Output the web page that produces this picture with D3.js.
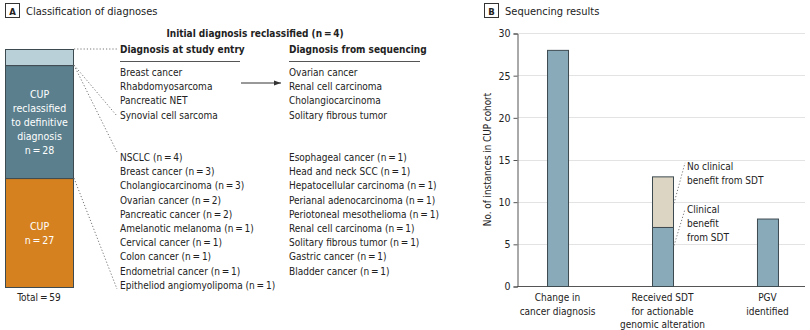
<!DOCTYPE html>
<html><head><meta charset="utf-8">
<script src="https://cdn.jsdelivr.net/npm/d3@7"></script>
<style>
body{margin:0;background:#fff;}
svg{font-family:"DejaVu Sans Condensed","Roboto",sans-serif;}
</style></head>
<body><svg id="c" width="810" height="330"></svg>
<script>
// ---- Panel A data ----
const stackCats = ["Initial diagnosis reclassified", "CUP reclassified to definitive diagnosis", "CUP"];
const stackVals = [4, 28, 27];
const stackLabels = [[], ["CUP", "reclassified", "to definitive", "diagnosis", "n\u2009=\u200928"], ["CUP", "n\u2009=\u200927"]];
const entryDiagnoses = ["Breast cancer", "Rhabdomyosarcoma", "Pancreatic NET", "Synovial cell sarcoma"];
const seqDiagnoses = ["Ovarian cancer", "Renal cell carcinoma", "Cholangiocarcinoma", "Solitary fibrous tumor"];
const definitiveLeft = ["NSCLC (n\u2009=\u20094)", "Breast cancer (n\u2009=\u20093)", "Cholangiocarcinoma (n\u2009=\u20093)", "Ovarian cancer (n\u2009=\u20092)",
  "Pancreatic cancer (n\u2009=\u20092)", "Amelanotic melanoma (n\u2009=\u20091)", "Cervical cancer (n\u2009=\u20091)", "Colon cancer (n\u2009=\u20091)",
  "Endometrial cancer (n\u2009=\u20091)", "Epitheliod angiomyolipoma (n\u2009=\u20091)"];
const definitiveRight = ["Esophageal cancer (n\u2009=\u20091)", "Head and neck SCC (n\u2009=\u20091)", "Hepatocellular carcinoma (n\u2009=\u20091)",
  "Perianal adenocarcinoma (n\u2009=\u20091)", "Periotoneal mesothelioma (n\u2009=\u20091)", "Renal cell carcinoma (n\u2009=\u20091)",
  "Solitary fibrous tumor (n\u2009=\u20091)", "Gastric cancer (n\u2009=\u20091)", "Bladder cancer (n\u2009=\u20091)"];
// ---- Panel B data ----
const bCategories = ["Change in cancer diagnosis", "Received SDT for actionable genomic alteration", "PGV identified"];
const bCatLines = [["Change in", "cancer diagnosis"], ["Received SDT", "for actionable", "genomic alteration"], ["PGV", "identified"]];
const benefitVals = [28, 7, 8];
const noBenefitVals = [0, 6, 0];
const yTicks = [0, 5, 10, 15, 20, 25, 30];

const svg = d3.select("#c");
const FS = 10;
const dark = "#222";

function panelTag(x, letter, title) {
  svg.append("rect").attr("x", x + 0.5).attr("y", 3.5).attr("width", 14).attr("height", 14)
    .attr("fill", "#fff").attr("stroke", "#333").attr("stroke-width", 1);
  svg.append("text").attr("x", x + 7.5).attr("y", 14.5).attr("text-anchor", "middle")
    .attr("font-size", 9.5).attr("font-weight", "bold").attr("fill", dark).text(letter);
  svg.append("text").attr("x", x + 21).attr("y", 15).attr("font-size", 11).attr("fill", dark).text(title);
}

// ===== Panel A =====
panelTag(5, "A", "Classification of diagnoses");
const total = d3.sum(stackVals);
const yA = d3.scaleLinear().domain([0, total]).range([49, 287]);
const stackColors = ["#b9d0d9", "#5b7f8d", "#d5811f"];
let cum = 0;
const segs = stackVals.map((v, i) => { const s = {i, y0: cum, y1: cum + v}; cum += v; return s; });
const barX0 = 5, barX1 = 73;
svg.append("g").selectAll("rect").data(segs).join("rect")
  .attr("x", barX0 + 0.5).attr("width", barX1 - barX0)
  .attr("y", d => yA(d.y0) + 0.5).attr("height", d => yA(d.y1) - yA(d.y0))
  .attr("fill", d => stackColors[d.i]).attr("stroke", "#3d4a50").attr("stroke-width", 1);
segs.forEach(s => {
  const lines = stackLabels[s.i];
  const mid = (yA(s.y0) + yA(s.y1)) / 2;
  lines.forEach((t, k) => {
    svg.append("text").attr("x", (barX0 + barX1) / 2 + 0.5)
      .attr("y", mid + (k - (lines.length - 1) / 2) * 14 + 4)
      .attr("text-anchor", "middle").attr("font-size", 10.5).attr("fill", "#fff").text(t);
  });
});
svg.append("text").attr("x", (barX0 + barX1) / 2).attr("y", 301).attr("text-anchor", "middle")
  .attr("font-size", FS).attr("fill", dark).text("Total\u2009=\u2009" + total);

// headings
svg.append("text").attr("x", 255).attr("y", 37).attr("text-anchor", "middle").attr("font-size", 10)
  .attr("font-weight", "bold").attr("fill", dark).text("Initial diagnosis reclassified (n\u2009=\u2009" + stackVals[0] + ")");
const colL = 120, colR = 289;
svg.append("text").attr("x", colL).attr("y", 53).attr("font-size", 10).attr("font-weight", "bold").attr("fill", dark).text("Diagnosis at study entry");
svg.append("text").attr("x", colR).attr("y", 53).attr("font-size", 10).attr("font-weight", "bold").attr("fill", dark).text("Diagnosis from sequencing");
svg.append("line").attr("x1", colL).attr("x2", 240).attr("y1", 61.5).attr("y2", 61.5).attr("stroke", "#555");
svg.append("line").attr("x1", colR).attr("x2", 420).attr("y1", 61.5).attr("y2", 61.5).attr("stroke", "#555");

const lineH = 14.2;
function list(arr, x, y0) {
  svg.append("g").selectAll("text").data(arr).join("text")
    .attr("x", x).attr("y", (d, i) => y0 + i * lineH).attr("font-size", FS).attr("fill", dark).text(d => d);
}
list(entryDiagnoses, colL, 76);
list(seqDiagnoses, colR, 76);
list(definitiveLeft, colL, 161);
list(definitiveRight, colR, 161);

// arrow
svg.append("defs").append("marker").attr("id", "ah").attr("viewBox", "0 0 10 10").attr("refX", 10).attr("refY", 5)
  .attr("markerWidth", 7).attr("markerHeight", 7).attr("orient", "auto")
  .append("path").attr("d", "M0,1.5L10,5L0,8.5Z").attr("fill", "#333");
svg.append("line").attr("x1", 241).attr("x2", 281).attr("y1", 83).attr("y2", 83)
  .attr("stroke", "#333").attr("stroke-width", 1).attr("marker-end", "url(#ah)");

// dotted connectors
const dotted = {stroke: "#777", "stroke-width": 1, "stroke-dasharray": "1.2,2"};
const conns = [
  [barX1 + 1, yA(0), 117, yA(0)],
  [barX1 + 1, yA(segs[1].y0), 117, 116],
  [barX1 + 1, yA(segs[1].y0), 117, 152],
  [barX1 + 1, yA(segs[2].y0), 117, 289]
];
conns.forEach(c => {
  const l = svg.append("line").attr("x1", c[0]).attr("y1", c[1]).attr("x2", c[2]).attr("y2", c[3]);
  Object.entries(dotted).forEach(([k, v]) => l.attr(k, v));
});

// ===== Panel B =====
panelTag(484, "B", "Sequencing results");
const y = d3.scaleLinear().domain([0, 30]).range([286, 33]);
const x = d3.scaleBand().domain(bCategories).range([517, 808]).paddingInner(0.8).paddingOuter(0.286);
// grid
svg.append("g").selectAll("line").data(yTicks.filter(t => t > 0)).join("line")
  .attr("x1", 518).attr("x2", 805).attr("y1", d => Math.round(y(d)) + 0.5).attr("y2", d => Math.round(y(d)) + 0.5)
  .attr("stroke", "#e3e3e3").attr("stroke-width", 1);
// y axis
const yAxis = svg.append("g").attr("transform", "translate(517.5,0.5)")
  .call(d3.axisLeft(y).tickValues(yTicks).tickSize(4).tickPadding(3));
yAxis.attr("font-family", null);
yAxis.select(".domain").attr("stroke", "#555");
yAxis.selectAll(".tick line").attr("stroke", "#555");
yAxis.selectAll("text").attr("font-size", 10.5).attr("fill", dark);
// x axis baseline
svg.append("line").attr("x1", 517).attr("x2", 805).attr("y1", Math.round(y(0)) + 0.5).attr("y2", Math.round(y(0)) + 0.5)
  .attr("stroke", "#555");
svg.append("text").attr("transform", `translate(491,${(y(0) + y(30)) / 2}) rotate(-90)`).attr("text-anchor", "middle")
  .attr("font-size", 9.8).attr("fill", dark).text("No. of instances in CUP cohort");

// bars
const bw = x.bandwidth();
svg.append("g").selectAll("rect").data(bCategories).join("rect")
  .attr("x", d => x(d) + 0.5).attr("width", bw)
  .attr("y", (d, i) => y(benefitVals[i]) + 0.5).attr("height", (d, i) => y(0) - y(benefitVals[i]))
  .attr("fill", "#89aab9").attr("stroke", "#3d4a50");
svg.append("g").selectAll("rect").data(bCategories.filter((d, i) => noBenefitVals[i] > 0)).join("rect")
  .attr("x", d => x(d) + 0.5).attr("width", bw)
  .attr("y", d => { const i = bCategories.indexOf(d); return y(benefitVals[i] + noBenefitVals[i]) + 0.5; })
  .attr("height", d => { const i = bCategories.indexOf(d); return y(benefitVals[i]) - y(benefitVals[i] + noBenefitVals[i]); })
  .attr("fill", "#dcd5c3").attr("stroke", "#3d4a50");

// x labels
bCatLines.forEach((lines, i) => {
  const cx = x(bCategories[i]) + bw / 2;
  lines.forEach((t, k) => svg.append("text").attr("x", cx).attr("y", 301 + k * 13.5).attr("text-anchor", "middle")
    .attr("font-size", 10).attr("fill", dark).text(t));
});

// annotations
const sx = x(bCategories[1]) + bw + 1;
const ann1 = svg.append("line").attr("x1", sx).attr("y1", y(9.8)).attr("x2", sx + 11).attr("y2", y(14.6));
const ann2 = svg.append("line").attr("x1", sx).attr("y1", y(4.8)).attr("x2", sx + 11).attr("y2", y(9.1));
[ann1, ann2].forEach(l => Object.entries(dotted).forEach(([k, v]) => l.attr(k, v)));
[["No clinical", "benefit from SDT"], ["Clinical", "benefit", "from SDT"]].forEach((lines, j) => {
  const top = j === 0 ? 170 : 213;
  lines.forEach((t, k) => svg.append("text").attr("x", sx + 13).attr("y", top + k * 14)
    .attr("font-size", 10).attr("fill", dark).text(t));
});
</script></body></html>
